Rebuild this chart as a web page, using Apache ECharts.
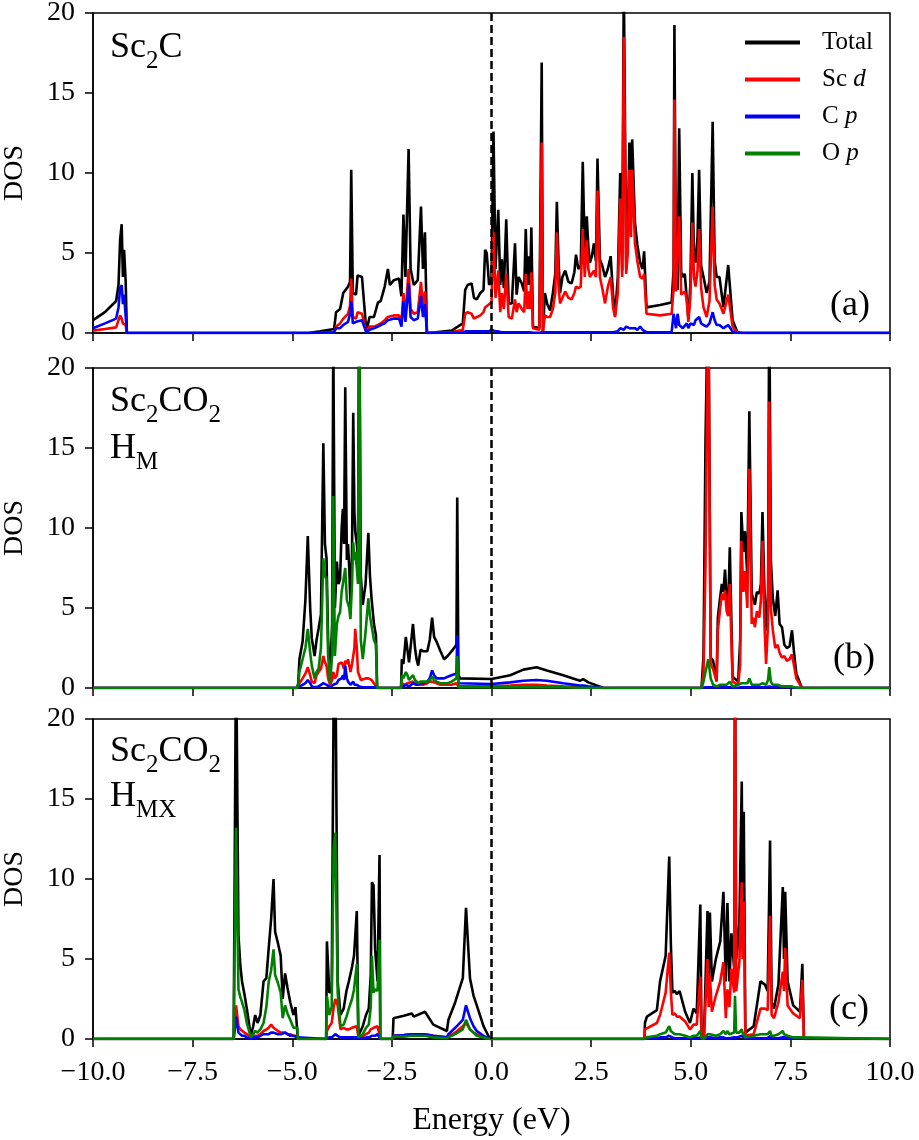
<!DOCTYPE html>
<html>
<head>
<meta charset="utf-8">
<script src="https://cdn.jsdelivr.net/npm/echarts@6/dist/echarts.min.js"></script>
<style>
  html, body { margin: 0; padding: 0; background: #fff; }
  #chartArea { width: 919px; height: 1140px; }
</style>
</head>
<body>
<div id="chartArea"></div>
<script>
// (a) Sc2C
const energyA = [
  -10.0, -9.7, -9.42, -9.36, -9.32, -9.28, -9.25, -9.22, -9.18, -9.15,
  -4.6, -4.3, -3.95, -3.9, -3.8, -3.72, -3.6, -3.55, -3.52, -3.48,
  -3.4, -3.36, -3.25, -3.14, -3.06, -2.95, -2.85, -2.78, -2.68, -2.6,
  -2.55, -2.45, -2.32, -2.26, -2.21, -2.16, -2.08, -2.03, -1.95, -1.85,
  -1.77, -1.72, -1.67, -1.62, -1.4, -1.0, -0.72, -0.66, -0.6, -0.5,
  -0.44, -0.37, -0.28, -0.2, -0.16, -0.12, -0.06, 0.0, 0.05, 0.1,
  0.17, 0.22, 0.26, 0.31, 0.37, 0.43, 0.51, 0.59, 0.63, 0.68,
  0.76, 0.82, 0.86, 0.9, 0.93, 0.97, 1.0, 1.04, 1.2, 1.24,
  1.26, 1.29, 1.34, 1.4, 1.47, 1.54, 1.6, 1.64, 1.68, 1.72,
  1.78, 1.85, 1.93, 2.01, 2.08, 2.12, 2.18, 2.24, 2.29, 2.34,
  2.39, 2.43, 2.47, 2.52, 2.57, 2.62, 2.66, 2.72, 2.78, 2.85,
  2.92, 2.99, 3.05, 3.1, 3.17, 3.23, 3.28, 3.32, 3.38, 3.42,
  3.46, 3.5, 3.53, 3.6, 3.66, 3.73, 3.79, 3.83, 3.89, 4.23,
  4.52, 4.57, 4.59, 4.63, 4.67, 4.71, 4.76, 4.8, 4.85, 4.9,
  4.94, 4.99, 5.04, 5.08, 5.12, 5.17, 5.21, 5.26, 5.32, 5.4,
  5.47, 5.55, 5.6, 5.65, 5.72, 5.82, 5.94, 6.05, 6.17, 6.3,
  10
];
const totalA = [
  0.8, 1.3, 2.0, 3.0, 5.8, 6.8, 3.5, 5.2, 3.2, 0,
  0, 0.1, 0.25, 1.3, 1.5, 2.5, 2.9, 3.2, 10.2, 2.5,
  2.4, 3.6, 3.5, 0.1, 1.0, 1.0, 1.9, 2.0, 2.9, 4.0,
  3.0, 3.3, 3.4, 2.3, 7.4, 3.5, 11.5, 4.0, 3.0, 3.3,
  7.9, 4.0, 6.3, 0, 0.05, 0.15, 0.6, 2.7, 3.0, 3.1,
  2.2, 2.1, 2.5, 2.7, 5.2, 5.0, 3.0, 3.3, 12.6, 4.0,
  7.7, 3.0, 4.6, 2.8, 7.1, 1.85, 1.85, 5.6, 2.4, 3.5,
  3.1, 2.6, 6.5, 3.0, 4.8, 3.0, 6.6, 0.4, 0.3, 0.2,
  16.9, 0.1, 2.5, 1.8, 1.4, 2.5, 3.7, 8.2, 4.6, 2.5,
  3.5, 3.9, 3.2, 3.1, 3.8, 4.9, 4.0, 4.2, 10.7, 5.0,
  7.3, 5.4, 4.4, 4.8, 5.6, 4.5, 10.9, 4.6, 4.2, 3.5,
  4.0, 4.8, 2.4, 1.1, 3.5, 10.0, 3.9, 22, 4.1, 6.0,
  11.9, 8.0, 12.1, 6.9, 5.5, 4.4, 4.0, 5.1, 1.6, 1.75,
  1.9, 4.0, 19.25, 3.0, 2.7, 12.8, 3.8, 3.5, 3.7, 3.7,
  0.9, 3.0, 10.0, 5.0, 4.4, 6.0, 10.2, 4.2, 3.5, 2.5,
  3.2, 13.2, 4.5, 3.5, 3.5, 1.6, 4.25, 0.8, 0.05, 0,
  0
];
const scdA = [
  0.15, 0.25, 0.35, 0.8, 1.1, 0.9, 0.6, 0.7, 0.5, 0,
  0, 0.02, 0.05, 0.4, 0.6, 0.9, 1.2, 1.7, 3.4, 1.0,
  0.9, 1.3, 1.2, 0.05, 0.4, 0.4, 0.5, 0.6, 0.8, 1.0,
  1.0, 1.1, 1.1, 0.6, 2.5, 1.0, 4.0, 1.5, 1.2, 1.3,
  3.2, 1.6, 2.6, 0, 0.02, 0.05, 0.2, 1.2, 1.3, 1.2,
  0.9, 1.0, 1.1, 1.3, 1.6, 1.5, 1.8, 1.9, 6.3, 2.2,
  3.9, 1.3, 2.5, 1.5, 3.7, 1.0, 0.9, 2.1, 1.3, 1.85,
  1.5, 1.3, 3.7, 1.5, 2.6, 1.5, 3.8, 0.3, 0.2, 0.1,
  11.9, 0.05, 1.1, 1.0, 1.0, 1.5, 2.5, 6.3, 3.0, 1.85,
  2.2, 2.6, 2.2, 2.1, 2.5, 2.9, 2.8, 2.9, 6.5, 3.5,
  5.8, 4.0, 3.5, 3.4, 3.9, 3.5, 8.9, 3.5, 2.8, 1.85,
  2.9, 3.5, 1.6, 1.0, 2.5, 8.4, 3.5, 18.5, 3.7, 5.0,
  10.2, 6.0, 10.2, 5.6, 4.5, 3.5, 3.4, 3.7, 1.2, 1.1,
  1.2, 2.8, 14.6, 2.6, 2.5, 7.3, 2.4, 2.3, 2.6, 2.1,
  0.7, 2.2, 6.9, 3.5, 2.9, 3.9, 6.5, 2.8, 1.6, 1.0,
  2.0, 7.9, 3.0, 2.1, 1.85, 1.2, 2.4, 0.4, 0.02, 0,
  0
];
const cpA = [
  0.3, 0.6, 0.9, 1.6, 2.8, 3.0, 1.8, 2.4, 2.4, 0,
  0, 0.02, 0.05, 0.3, 0.3, 0.5, 0.7, 1.2, 2.0, 0.6,
  0.7, 0.8, 0.8, 0.02, 0.2, 0.3, 0.4, 0.5, 0.6, 0.8,
  0.8, 0.9, 0.9, 0.4, 2.0, 0.7, 3.1, 1.0, 0.8, 0.9,
  2.3, 1.0, 1.8, 0, 0, 0.02, 0.05, 0.1, 0.1, 0.1,
  0.1, 0.1, 0.1, 0.1, 0.1, 0.1, 0.1, 0.2, 0.1, 0.1,
  0.1, 0.1, 0.05, 0.05, 0.05, 0.05, 0.05, 0.05, 0.05, 0.05,
  0.05, 0.05, 0.05, 0.05, 0.05, 0.05, 0.05, 0.02, 0.02, 0.02,
  0.05, 0.02, 0.05, 0.05, 0.05, 0.05, 0.05, 0.05, 0.05, 0.05,
  0.05, 0.05, 0.05, 0.05, 0.05, 0.05, 0.05, 0.05, 0.05, 0.05,
  0.05, 0.05, 0.05, 0.05, 0.05, 0.05, 0.05, 0.05, 0.05, 0.05,
  0.05, 0.05, 0.05, 0.05, 0.1, 0.3, 0.2, 0.2, 0.4, 0.3,
  0.3, 0.4, 0.3, 0.3, 0.2, 0.4, 0.2, 0.2, 0.05, 0.05,
  0.05, 1.2, 1.2, 0.3, 1.2, 0.5, 0.4, 0.3, 0.3, 0.6,
  0.3, 0.6, 0.6, 0.5, 0.8, 0.7, 1.0, 0.6, 0.5, 0.4,
  0.6, 1.3, 0.8, 0.5, 0.5, 0.3, 0.5, 0.1, 0, 0,
  0
];

// (b) Sc2CO2 H_M
const energyB = [
  -10, -4.88, -4.85, -4.82, -4.74, -4.67, -4.61, -4.55, -4.51, -4.44,
  -4.39, -4.34, -4.28, -4.22, -4.18, -4.14, -4.1, -4.05, -4.0, -3.97,
  -3.93, -3.88, -3.84, -3.8, -3.76, -3.73, -3.7, -3.67, -3.63, -3.6,
  -3.57, -3.54, -3.5, -3.47, -3.44, -3.42, -3.38, -3.35, -3.32, -3.28,
  -3.23, -3.16, -3.09, -3.05, -3.01, -2.95, -2.9, -2.87, -2.27, -2.25,
  -2.21, -2.19, -2.15, -2.11, -2.07, -1.97, -1.92, -1.88, -1.84, -1.78,
  -1.72, -1.61, -1.55, -1.49, -1.44, -1.38, -1.28, -1.19, -1.1, -1.0,
  -0.88, -0.86, -0.83, -0.79, 0.0, 0.47, 0.8, 1.13, 1.39, 1.8,
  2.22, 2.3, 2.43, 2.81, 5.27, 5.32, 5.37, 5.44, 5.5, 5.56,
  5.65, 5.68, 5.73, 5.78, 5.82, 5.86, 5.9, 5.94, 5.98, 6.05,
  6.19, 6.24, 6.27, 6.32, 6.36, 6.42, 6.47, 6.53, 6.57, 6.61,
  6.66, 6.72, 6.76, 6.8, 6.85, 6.89, 6.94, 6.97, 7.01, 7.06,
  7.12, 7.18, 7.23, 7.29, 7.35, 7.41, 7.48, 7.54, 7.6, 7.65,
  7.79, 10
];
const totalB = [
  0, 0, 0.3, 1.8, 2.9, 5.5, 9.5, 5.0, 3.1, 2.0,
  3.0, 3.7, 4.6, 15.3, 9.0, 8.1, 3.0, 0.6, 4.0, 22,
  5.0, 7.9, 6.5, 6.8, 10.0, 11.2, 9.0, 18.8, 8.0, 9.0,
  7.5, 5.2, 8.5, 17.2, 11.0, 9.8, 9.0, 8.1, 26, 7.0,
  5.2, 6.5, 9.7, 7.0, 5.6, 4.0, 3.3, 0, 0, 1.8,
  1.5, 1.4, 3.2, 2.4, 1.6, 4.0, 2.5, 1.8, 1.4, 2.4,
  2.3, 2.3, 3.0, 4.4, 3.2, 2.9, 2.3, 1.8, 2.0, 2.3,
  2.7, 11.9, 0.8, 0.6, 0.56, 0.8, 1.15, 1.3, 1.1, 0.8,
  0.45, 0.55, 0.35, 0, 0, 2.0, 15.4, 26, 1.9, 1.7,
  0.5, 4.4, 5.5, 6.5, 6.0, 7.4, 5.6, 5.0, 8.8, 0.7,
  0.4, 3.0, 11.0, 8.5, 9.8, 7.0, 17.3, 5.9, 6.0, 5.2,
  6.0, 5.9, 6.5, 11.0, 6.0, 3.6, 6.0, 25, 8.0, 5.6,
  4.5, 6.1, 4.0, 3.8, 2.7, 2.5, 2.6, 3.6, 2.0, 0.9,
  0, 0
];
const scdB = [
  0, 0, 0.05, 0.3, 0.6, 0.9, 1.3, 0.8, 0.4, 0.3,
  0.8, 1.0, 1.2, 2.0, 1.6, 1.4, 0.6, 0.2, 0.5, 1.0,
  0.6, 0.8, 1.5, 1.4, 1.6, 1.6, 1.2, 1.7, 1.5, 1.8,
  1.4, 1.0, 1.5, 1.6, 2.5, 3.7, 2.5, 1.0, 0.8, 0.5,
  0.6, 0.6, 0.6, 0.5, 0.5, 0.3, 0.3, 0, 0, 0.3,
  0.2, 0.2, 0.3, 0.3, 0.2, 0.4, 0.3, 0.2, 0.2, 0.2,
  0.2, 0.3, 0.4, 0.4, 0.3, 0.3, 0.2, 0.2, 0.2, 0.2,
  0.3, 0.3, 0.1, 0.1, 0.1, 0.15, 0.2, 0.2, 0.15, 0.1,
  0.05, 0.05, 0.05, 0, 0, 1.0, 7.7, 25, 1.5, 1.2,
  0.4, 3.6, 4.8, 5.9, 5.5, 6.1, 4.8, 4.5, 6.5, 0.4,
  0.2, 1.5, 9.2, 6.0, 7.3, 5.0, 13.7, 4.0, 4.4, 3.8,
  4.8, 4.4, 5.5, 9.2, 4.0, 1.5, 4.0, 17.9, 5.0, 3.6,
  2.5, 2.7, 2.2, 1.9, 2.0, 1.7, 1.8, 2.1, 1.3, 0.6,
  0, 0
];
const cpB = [
  0, 0, 0.02, 0.1, 0.2, 0.3, 0.5, 0.3, 0.1, 0.05,
  0.1, 0.1, 0.2, 0.3, 0.2, 0.2, 0.1, 0.05, 0.1, 0.2,
  0.1, 0.3, 0.5, 0.4, 0.6, 0.8, 0.5, 1.4, 0.6, 0.4,
  0.3, 0.2, 0.3, 0.4, 0.2, 0.3, 0.2, 0.1, 0.1, 0.05,
  0.05, 0.05, 0.05, 0.05, 0.05, 0.05, 0.05, 0, 0, 0.1,
  0.1, 0.1, 0.2, 0.2, 0.1, 0.3, 0.2, 0.2, 0.2, 0.3,
  0.3, 0.4, 0.6, 1.1, 0.8, 0.6, 0.6, 0.6, 0.7, 0.8,
  0.9, 3.3, 0.3, 0.3, 0.25, 0.35, 0.45, 0.5, 0.45, 0.3,
  0.15, 0.15, 0.1, 0, 0, 0.02, 0.05, 0.05, 0.05, 0.05,
  0.02, 0.02, 0.05, 0.05, 0.05, 0.05, 0.05, 0.05, 0.05, 0.02,
  0.02, 0.05, 0.05, 0.05, 0.05, 0.05, 0.05, 0.05, 0.05, 0.05,
  0.05, 0.05, 0.05, 0.05, 0.05, 0.05, 0.05, 0.1, 0.05, 0.05,
  0.05, 0.05, 0.05, 0.05, 0.05, 0.05, 0.05, 0.05, 0.02, 0.02,
  0, 0
];
const opB = [
  0, 0, 0.2, 1.0, 1.8, 2.5, 3.7, 2.2, 1.4, 0.6,
  1.0, 1.2, 2.5, 8.1, 7.0, 6.8, 2.0, 0.3, 2.0, 12.0,
  2.0, 4.0, 4.5, 4.75, 6.0, 6.0, 7.0, 7.5, 5.5, 5.6,
  5.0, 4.3, 6.5, 9.1, 8.0, 8.5, 7.5, 6.5, 25, 3.0,
  1.8, 3.5, 5.6, 4.5, 3.9, 3.0, 2.7, 0, 0, 0.8,
  0.6, 0.5, 1.0, 0.8, 0.5, 0.8, 0.5, 0.4, 0.3, 0.4,
  0.4, 0.4, 0.5, 0.7, 0.5, 0.4, 0.3, 0.3, 0.3, 0.4,
  0.6, 2.0, 0.05, 0.05, 0.05, 0.05, 0.05, 0.05, 0.05, 0.05,
  0.02, 0.02, 0.02, 0, 0, 0.4, 1.0, 1.8, 0.6, 0.2,
  0.1, 0.2, 0.2, 0.3, 0.2, 0.3, 0.2, 0.2, 0.4, 0.1,
  0.2, 0.2, 0.3, 0.3, 0.3, 0.3, 0.6, 0.2, 0.2, 0.2,
  0.2, 0.2, 0.3, 0.3, 0.2, 0.2, 0.5, 1.3, 0.4, 0.2,
  0.2, 0.2, 0.2, 0.1, 0.1, 0.1, 0.1, 0.1, 0.05, 0.05,
  0, 0
];

// (c) Sc2CO2 H_MX
const energyC = [
  -10, -6.47, -6.41, -6.35, -6.3, -6.26, -6.2, -6.14, -6.04, -5.98,
  -5.93, -5.87, -5.8, -5.72, -5.65, -5.59, -5.53, -5.47, -5.43, -5.36,
  -5.29, -5.24, -5.18, -5.12, -5.05, -4.97, -4.92, -4.87, -4.86, -4.15,
  -4.13, -4.07, -4.01, -3.96, -3.92, -3.86, -3.79, -3.71, -3.64, -3.58,
  -3.5, -3.45, -3.38, -3.34, -3.23, -3.15, -3.08, -3.03, -3.0, -2.96,
  -2.92, -2.86, -2.81, -2.79, -2.48, -2.46, -2.2, -2.0, -1.95, -1.92,
  -1.67, -1.46, -1.12, -1.08, -0.91, -0.72, -0.64, -0.54, -0.45, -0.37,
  -0.2, -0.04, 3.84, 3.85, 3.9, 4.15, 4.23, 4.37, 4.46, 4.5,
  4.54, 4.6, 4.65, 4.72, 4.77, 4.86, 4.98, 5.07, 5.15, 5.24,
  5.27, 5.33, 5.42, 5.45, 5.48, 5.53, 5.63, 5.74, 5.82, 5.88,
  5.92, 5.97, 6.02, 6.09, 6.11, 6.14, 6.17, 6.22, 6.28, 6.3,
  6.33, 6.37, 6.58, 6.75, 6.86, 6.93, 6.99, 7.03, 7.09, 7.2,
  7.31, 7.34, 7.37, 7.43, 7.57, 7.74, 7.8, 7.84, 10
];
const totalC = [
  0, 0, 25, 6.5, 4.5, 3.6, 2.8, 1.9, 0.2, 0.8,
  1.5, 1.0, 1.5, 3.6, 3.8, 5.7, 7.5, 10.0, 6.7, 6.0,
  5.2, 2.5, 4.1, 3.2, 2.3, 1.5, 2.0, 1.9, 0, 0,
  6.1, 2.9, 3.0, 22, 25, 3.6, 1.5, 1.9, 3.0, 3.6,
  4.5, 5.2, 8.0, 0.2, 0.8, 1.5, 1.9, 4.0, 9.8, 9.6,
  5.6, 3.6, 11.5, 0, 0, 1.3, 1.45, 1.6, 1.4, 1.5,
  1.7, 0.9, 0.5, 1.2, 2.3, 3.8, 8.2, 3.8, 2.7, 2.1,
  0.8, 0, 0, 1.0, 1.4, 1.8, 3.6, 5.2, 11.4, 6.0,
  2.9, 3.0, 2.8, 3.0, 2.9, 1.7, 1.0, 1.9, 1.6, 8.4,
  0.2, 0, 8.0, 4.0, 7.9, 3.6, 5.0, 6.1, 9.2, 3.6,
  8.5, 3.6, 6.6, 4.4, 25, 5.0, 5.6, 7.3, 16.1, 8.0,
  14.2, 0.4, 0.8, 3.6, 3.4, 3.0, 12.4, 2.3, 1.9, 3.4,
  9.5, 5.0, 9.2, 3.6, 2.1, 1.7, 4.7, 0, 0
];
const scdC = [
  0, 0, 2.1, 0.8, 0.6, 0.5, 0.4, 0.3, 0.05, 0.2,
  0.3, 0.2, 0.3, 0.5, 0.6, 0.7, 0.9, 0.7, 0.6, 0.5,
  0.4, 0.3, 0.4, 0.3, 0.3, 0.2, 0.2, 0.2, 0, 0,
  0.5, 0.8, 1.0, 2.0, 2.5, 2.1, 0.6, 0.7, 0.6, 0.6,
  0.7, 0.7, 0.8, 0.1, 0.2, 0.3, 0.4, 0.6, 0.6, 0.7,
  0.7, 0.8, 0.9, 0, 0, 0.2, 0.25, 0.3, 0.3, 0.3,
  0.3, 0.2, 0.1, 0.2, 0.4, 0.8, 1.0, 0.6, 0.4, 0.3,
  0.1, 0, 0, 0.6, 0.6, 1.0, 1.5, 2.9, 5.4, 3.0,
  1.5, 1.6, 1.4, 1.4, 1.5, 1.1, 0.6, 0.9, 0.9, 3.9,
  0.1, 0, 5.0, 2.0, 4.0, 1.7, 2.7, 3.6, 4.8, 1.3,
  3.1, 2.0, 4.4, 2.9, 25, 3.0, 3.1, 4.8, 9.8, 5.0,
  8.6, 0.2, 0.3, 1.9, 1.9, 1.8, 7.7, 1.5, 1.3, 2.3,
  4.2, 3.0, 5.7, 2.1, 1.6, 1.3, 3.7, 0, 0
];
const cpC = [
  0, 0, 1.4, 0.4, 0.3, 0.2, 0.2, 0.1, 0.02, 0.1,
  0.15, 0.1, 0.2, 0.3, 0.3, 0.3, 0.4, 0.4, 0.3, 0.3,
  0.3, 0.2, 0.4, 0.3, 0.2, 0.2, 0.1, 0.1, 0, 0,
  0.1, 0.1, 0.1, 0.2, 0.3, 0.2, 0.1, 0.1, 0.1, 0.1,
  0.1, 0.1, 0.1, 0.05, 0.05, 0.1, 0.1, 0.2, 0.2, 0.2,
  0.2, 0.3, 0.3, 0, 0, 0.2, 0.25, 0.3, 0.3, 0.3,
  0.3, 0.2, 0.1, 0.3, 0.7, 1.2, 2.1, 1.3, 0.8, 0.5,
  0.2, 0, 0, 0.05, 0.05, 0.05, 0.1, 0.1, 0.2, 0.1,
  0.1, 0.05, 0.05, 0.05, 0.05, 0.05, 0.05, 0.05, 0.05, 0.1,
  0.02, 0, 0.1, 0.05, 0.1, 0.05, 0.05, 0.1, 0.1, 0.05,
  0.1, 0.05, 0.1, 0.1, 0.1, 0.1, 0.1, 0.1, 0.2, 0.1,
  0.3, 0.05, 0.05, 0.05, 0.05, 0.05, 0.2, 0.05, 0.05, 0.05,
  0.1, 0.05, 0.1, 0.05, 0.05, 0.02, 0.05, 0, 0
];
const opC = [
  0, 0, 13.2, 3.1, 2.6, 2.3, 1.8, 1.0, 0.1, 0.3,
  0.5, 0.4, 0.6, 1.0, 2.0, 3.6, 4.3, 5.6, 4.0, 3.5,
  2.9, 1.3, 2.1, 1.6, 1.2, 0.7, 0.8, 0.7, 0, 0,
  2.7, 1.5, 2.0, 11.9, 12.9, 2.9, 0.8, 0.9, 1.4, 1.9,
  2.5, 3.1, 4.7, 0.1, 0.3, 0.7, 0.9, 2.0, 5.2, 2.9,
  3.1, 3.0, 6.2, 0, 0, 0.15, 0.15, 0.2, 0.2, 0.2,
  0.2, 0.1, 0.05, 0.1, 0.3, 0.6, 1.2, 0.6, 0.4, 0.2,
  0.1, 0, 0, 0.05, 0.1, 0.2, 0.3, 0.4, 0.8, 0.5,
  0.4, 0.3, 0.3, 0.3, 0.3, 0.2, 0.1, 0.2, 0.2, 0.5,
  0.05, 0, 0.3, 0.2, 0.3, 0.2, 0.2, 0.3, 0.5, 0.3,
  0.5, 0.3, 0.4, 0.4, 2.7, 0.4, 0.3, 0.4, 0.6, 0.4,
  0.5, 0.1, 0.2, 0.3, 0.3, 0.3, 0.5, 0.2, 0.2, 0.3,
  0.5, 0.3, 0.4, 0.2, 0.1, 0.1, 0.1, 0, 0
];

const legendNames = ['Total', 'Sc d', 'C p', 'O p'];
const lineColors = ['#000000', '#ff0000', '#0000ff', '#008000'];

const serif = 'Liberation Serif';
const chartDom = document.getElementById('chartArea');
const myChart = echarts.init(chartDom, null, { renderer: 'canvas' });

function pairs(energy, values) {
  if (energy.length !== values.length) console.warn('length mismatch', energy.length, values.length);
  return energy.map((e, i) => [e, values[i]]);
}

function dosLine(name, idx, energy, values) {
  const color = lineColors[legendNames.indexOf(name)];
  return {
    name: name,
    type: 'line',
    xAxisIndex: idx,
    yAxisIndex: idx,
    data: pairs(energy, values),
    showSymbol: false,
    symbol: 'none',
    silent: true,
    lineStyle: { color: color, width: 2.6 },
    itemStyle: { color: color }
  };
}

// zero line (Fermi level)
function fermiLine() {
  return {
    silent: true,
    symbol: ['none', 'none'],
    label: { show: false },
    lineStyle: { color: '#000', type: [8, 4], width: 2.5 },
    data: [{ xAxis: 0 }]
  };
}

const panels = [
  [energyA, [['Total', totalA], ['Sc d', scdA], ['C p', cpA]]],
  [energyB, [['Total', totalB], ['Sc d', scdB], ['C p', cpB], ['O p', opB]]],
  [energyC, [['Total', totalC], ['Sc d', scdC], ['C p', cpC], ['O p', opC]]]
];

let series = [];
panels.forEach(function (p, idx) {
  p[1].forEach(function (s, k) {
    let line = dosLine(s[0], idx, p[0], s[1]);
    if (k === 0) line.markLine = fermiLine();
    series.push(line);
  });
});

const gridTops = [13, 368, 719];
let grids = [], xAxes = [], yAxes = [];
gridTops.forEach(function (t, i) {
  grids.push({
    left: 93, right: 29, top: t, height: 320,
    show: true, borderColor: '#000', borderWidth: 1.5,
    backgroundColor: 'transparent', outerBoundsMode: 'none'
  });
  xAxes.push({
    type: 'value', gridIndex: i, min: -10, max: 10, interval: 2.5,
    axisLine: { show: true, onZero: false, lineStyle: { color: '#000', width: 1.5 } },
    axisTick: { show: true, inside: false, length: 8, lineStyle: { color: '#000', width: 1.5 } },
    axisLabel: {
      show: i === 2, color: '#000', fontFamily: serif, fontSize: 28, margin: 20,
      showMinLabel: true, showMaxLabel: true,
      formatter: function (v) { return v.toFixed(1).replace('-', '\u2212'); }
    },
    splitLine: { show: false },
    name: i === 2 ? 'Energy (eV)' : '',
    nameLocation: 'middle', nameGap: 66,
    nameTextStyle: { color: '#000', fontFamily: serif, fontSize: 32 }
  });
  yAxes.push({
    type: 'value', gridIndex: i, min: 0, max: 20, interval: 5,
    axisLine: { show: true, onZero: false, lineStyle: { color: '#000', width: 1.5 } },
    axisTick: { show: true, inside: false, length: 8, lineStyle: { color: '#000', width: 1.5 } },
    axisLabel: { color: '#000', fontFamily: serif, fontSize: 28, margin: 18 },
    splitLine: { show: false },
    name: 'DOS', nameLocation: 'middle', nameGap: 64, nameRotate: 90,
    nameTextStyle: { color: '#000', fontFamily: serif, fontSize: 28 }
  });
});

function titleText(x, y, text) {
  return {
    type: 'text', x: x, y: y, silent: true,
    style: {
      text: text, verticalAlign: 'top', fill: '#000',
      rich: {
        m: { fontFamily: serif, fontSize: 36, fill: '#000', padding: [0, 0, 8, 0], verticalAlign: 'bottom' },
        s: { fontFamily: serif, fontSize: 25, fill: '#000', verticalAlign: 'bottom' }
      }
    }
  };
}
function panelTag(x, y, text) {
  return {
    type: 'text', x: x, y: y, silent: true,
    style: { text: text, font: '36px ' + serif, fill: '#000', verticalAlign: 'middle' }
  };
}

let option = {
  animation: false,
  backgroundColor: '#fff',
  textStyle: { fontFamily: serif },
  grid: grids,
  xAxis: xAxes,
  yAxis: yAxes,
  legend: {
    data: legendNames,
    orient: 'vertical',
    left: 745, top: 30, padding: 0,
    icon: 'rect', itemWidth: 55, itemHeight: 4, itemGap: 12,
    selectedMode: false,
    formatter: function (name) { return name.replace(/ (\w)$/, ' {i|$1}'); },
    textStyle: {
      color: '#000', fontFamily: serif, fontSize: 25, padding: [0, 0, 0, 17],
      rich: { i: { fontStyle: 'italic', fontFamily: serif, fontSize: 25, color: '#000' } }
    }
  },
  graphic: [
    titleText(110, 30, '{m|Sc}{s|2}{m|C}'),
    titleText(110, 384, '{m|Sc}{s|2}{m|CO}{s|2}'),
    titleText(110, 431, '{m|H}{s|M}'),
    titleText(110, 734, '{m|Sc}{s|2}{m|CO}{s|2}'),
    titleText(110, 779, '{m|H}{s|MX}'),
    panelTag(830, 306, '(a)'),
    panelTag(833, 659, '(b)'),
    panelTag(829, 1010, '(c)')
  ],
  series: series
};

option && myChart.setOption(option);
</script>
</body>
</html>
